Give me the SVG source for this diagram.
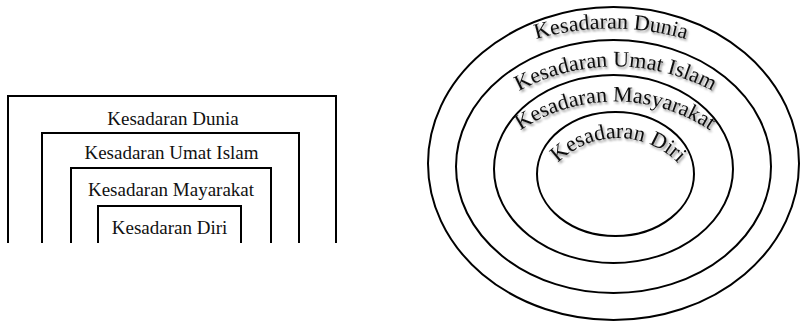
<svg xmlns="http://www.w3.org/2000/svg" width="801" height="326" viewBox="0 0 801 326">
<style>
.box{fill:none;stroke:#000;stroke-width:2}
.ring{fill:none;stroke:#000;stroke-width:2}
.lbl{font-family:"Liberation Serif","Times New Roman",serif;font-size:19px;fill:#111;text-anchor:middle}
.arc{font-family:"Liberation Serif","Times New Roman",serif;font-size:22px;fill:#111;filter:url(#sh)}
</style>
<defs>
<filter id="sh" x="-20%" y="-30%" width="140%" height="170%">
<feDropShadow dx="1.5" dy="2" stdDeviation="1.3" flood-color="#000" flood-opacity="0.45"/>
</filter>
<path id="p1" d="M343,296.5 A268,268 0 0 1 879,296.5"/>
<path id="p2" d="M412.5,269.5 A203,203 0 0 1 818.5,269.5"/>
<path id="p3" d="M445,271.5 A170,170 0 0 1 785,271.5"/>
<path id="p4" d="M533,223 A85,85 0 0 1 703,223"/>
</defs>
<g id="left-diagram">
<g id="box-dunia"><path class="box" d="M8,243 V96 H336 V243"/><text class="lbl" x="173" y="125">Kesadaran Dunia</text></g>
<g id="box-umat"><path class="box" d="M42,243 V133 H299 V243"/><text class="lbl" x="171.5" y="158.5">Kesadaran Umat Islam</text></g>
<g id="box-masyarakat"><path class="box" d="M71,243 V168 H271 V243"/><text class="lbl" x="171" y="195.5">Kesadaran Mayarakat</text></g>
<g id="box-diri"><path class="box" d="M98,243 V206 H241 V243"/><text class="lbl" x="169.5" y="233.5">Kesadaran Diri</text></g>
</g>
<g id="right-diagram">
<g id="ring-dunia"><ellipse class="ring" cx="613.5" cy="163.5" rx="185.5" ry="156.5"/><text class="arc"><textPath href="#p1" startOffset="50%" text-anchor="middle">Kesadaran Dunia</textPath></text></g>
<g id="ring-umat"><ellipse class="ring" cx="613.5" cy="166.5" rx="157.5" ry="126.5"/><text class="arc" font-size="21.4"><textPath href="#p2" startOffset="50%" text-anchor="middle">Kesadaran Umat Islam</textPath></text></g>
<g id="ring-masyarakat"><ellipse class="ring" cx="613.5" cy="169" rx="119.5" ry="94"/><text class="arc" font-size="21.4"><textPath href="#p3" startOffset="50%" text-anchor="middle">Kesadaran Masyarakat</textPath></text></g>
<g id="ring-diri"><ellipse class="ring" cx="615.5" cy="174" rx="78.5" ry="62"/><text class="arc"><textPath href="#p4" startOffset="50%" text-anchor="middle">Kesadaran Diri</textPath></text></g>
</g>
</svg>
